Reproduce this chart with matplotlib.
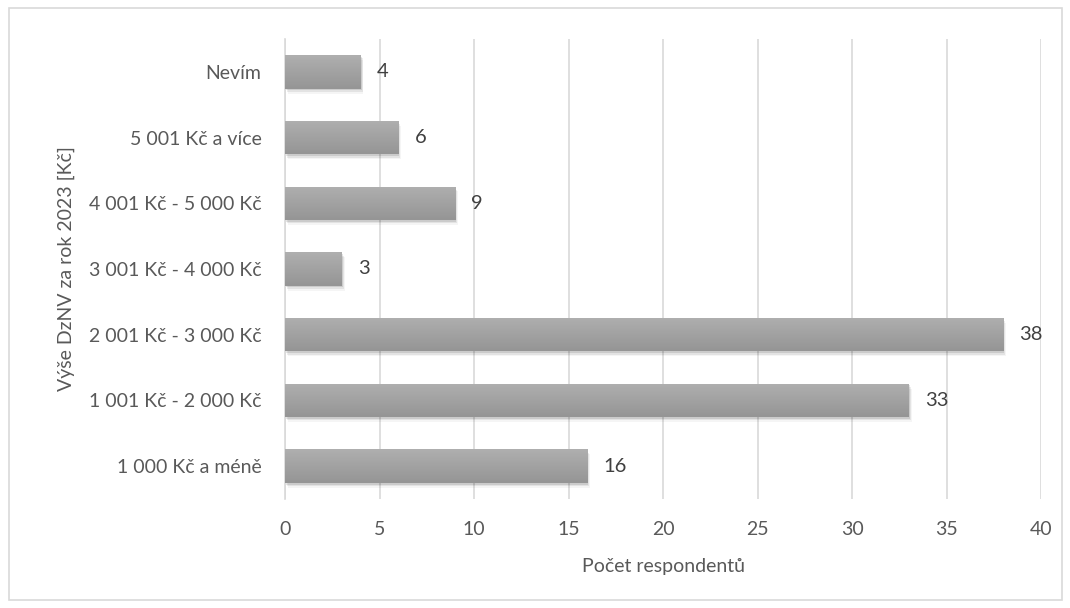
import numpy as np
import matplotlib.pyplot as plt
from matplotlib.patches import Rectangle
from matplotlib.colors import LinearSegmentedColormap

categories = ["1 000 Kč a méně", "1 001 Kč - 2 000 Kč", "2 001 Kč - 3 000 Kč",
              "3 001 Kč - 4 000 Kč", "4 001 Kč - 5 000 Kč", "5 001 Kč a více", "Nevím"]
counts = [16, 33, 38, 3, 9, 6, 4]
x_ticks = [0, 5, 10, 15, 20, 25, 30, 35, 40]

plt.rcParams['font.family'] = ['Lato', 'DejaVu Sans']
text_color = '#595959'
fs = 14

fig = plt.figure(figsize=(10.7, 6.08), dpi=100)
ax = fig.add_axes([0.2664, 0.1793, 0.7065, 0.7566])

y = np.arange(len(categories))
bar_h = 0.51
bars = ax.barh(y, counts, height=bar_h, color='#a5a5a5', zorder=3)

# soft shadow + vertical gradient like the Excel style
grad = np.linspace(0, 1, 64).reshape(-1, 1)
cmap = LinearSegmentedColormap.from_list('g', ['#afafaf', '#959595'])
for b in bars:
    bx, by = b.get_x(), b.get_y()
    bw, bh = b.get_width(), b.get_height()
    for i, a in enumerate([0.10, 0.07, 0.04]):
        ax.add_patch(Rectangle((bx + 0.05 * (i + 1), by - 0.025 * (i + 1)), bw, bh,
                               color='black', alpha=a, lw=0, zorder=2))
    im = ax.imshow(grad, cmap=cmap, extent=(bx, bx + bw, by, by + bh),
                   aspect='auto', origin='upper', zorder=3.5, interpolation='bilinear')
    im.set_clip_path(b)

for yi, v in zip(y, counts):
    ax.text(v + 0.85, yi, str(v), va='center', ha='left', fontsize=fs + 0.5, color='#404040')

ax.set_xlim(0, 40)
ax.set_ylim(-0.5, len(categories) - 0.5)
ax.set_xticks(x_ticks)
ax.set_yticks(y)
ax.set_yticklabels(categories)
ax.tick_params(axis='both', length=0, labelsize=fs, labelcolor=text_color)
ax.tick_params(axis='x', pad=16)
ax.tick_params(axis='y', pad=17)
ax.grid(axis='x', color='#d9d9d9', lw=1.2, zorder=0)
ax.set_axisbelow(True)
for s in ['top', 'right', 'bottom']:
    ax.spines[s].set_visible(False)
ax.spines['left'].set_color('#d9d9d9')
ax.spines['left'].set_linewidth(1.2)

ax.set_xlabel("Počet respondentů", fontsize=fs, color=text_color, labelpad=14)
ax.set_ylabel("Výše DzNV za rok 2023 [Kč]", fontsize=fs, color=text_color, labelpad=10)

fig.patches.append(Rectangle((9 / 1070, 8 / 608), 1053 / 1070, 592 / 608,
                             transform=fig.transFigure, fill=False,
                             edgecolor='#d9d9d9', lw=1.2))

fig.savefig('out.png', dpi=100)
